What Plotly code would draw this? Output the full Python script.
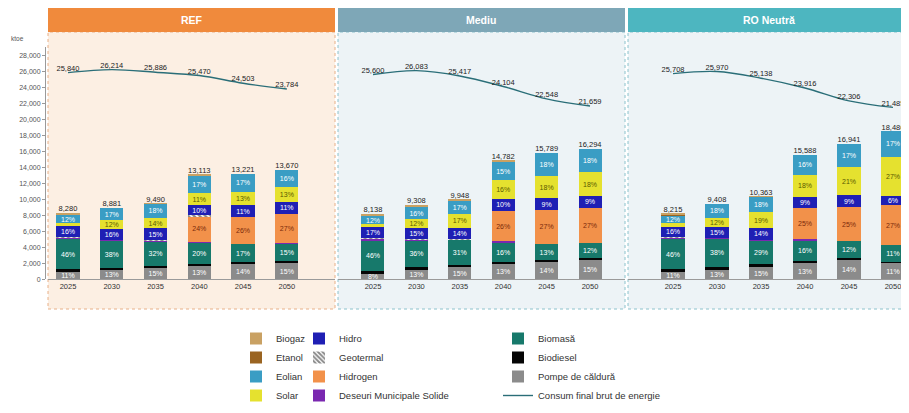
import plotly.graph_objects as go

years = ["2025", "2030", "2035", "2040", "2045", "2050"]
scenarios = ["REF", "Mediu", "RO Neutră"]

# Bar totals (ktoe)
ref_total = [8280, 8881, 9490, 13113, 13221, 13670]
mediu_total = [8138, 9308, 9948, 14782, 15789, 16294]
ro_total = [8215, 9408, 10363, 15588, 16941, 18486]

# Consum final brut de energie (ktoe)
ref_consum = [25840, 26214, 25886, 25470, 24503, 23784]
mediu_consum = [25600, 26083, 25417, 24104, 22548, 21659]
ro_consum = [25708, 25970, 25138, 23916, 22306, 21485]

# Shares (%) per source - REF
ref_pompe = [11, 13, 15, 13, 14, 15]
ref_biodiesel = [4, 3, 3, 2, 2, 2]
ref_biomasa = [46, 38, 32, 20, 17, 15]
ref_deseuri = [1, 1, 1, 1, 0, 1]
ref_hidrogen = [0, 0, 0, 24, 26, 27]
ref_geotermal = [2, 0, 1, 1, 0, 0]
ref_hidro = [16, 16, 15, 10, 11, 11]
ref_solar = [5, 12, 14, 11, 13, 13]
ref_eolian = [12, 17, 18, 17, 17, 16]
ref_etanol = [1, 0, 0, 0, 0, 0]
ref_biogaz = [2, 0, 1, 1, 0, 0]

# Mediu
mediu_pompe = [8, 13, 15, 13, 14, 15]
mediu_biodiesel = [5, 3, 3, 2, 1, 1]
mediu_biomasa = [46, 36, 31, 16, 13, 12]
mediu_deseuri = [3, 1, 1, 1, 0, 0]
mediu_hidrogen = [0, 0, 0, 26, 27, 27]
mediu_geotermal = [1, 1, 1, 0, 0, 0]
mediu_hidro = [17, 15, 14, 10, 9, 9]
mediu_solar = [5, 12, 17, 16, 18, 18]
mediu_eolian = [12, 16, 17, 15, 18, 18]
mediu_etanol = [1, 1, 0, 0, 0, 0]
mediu_biogaz = [2, 2, 1, 1, 0, 0]

# RO Neutra
ro_pompe = [11, 13, 15, 13, 14, 11]
ro_biodiesel = [4, 3, 3, 2, 2, 1]
ro_biomasa = [46, 38, 29, 16, 12, 11]
ro_deseuri = [2, 1, 1, 1, 0, 0]
ro_hidrogen = [0, 0, 0, 25, 25, 27]
ro_geotermal = [1, 0, 0, 0, 0, 0]
ro_hidro = [16, 15, 14, 9, 9, 6]
ro_solar = [5, 12, 19, 18, 21, 27]
ro_eolian = [12, 18, 18, 16, 17, 17]
ro_etanol = [1, 0, 0, 0, 0, 0]
ro_biogaz = [2, 0, 1, 0, 0, 0]

totals = {"REF": ref_total, "Mediu": mediu_total, "RO Neutră": ro_total}
consum = {"REF": ref_consum, "Mediu": mediu_consum, "RO Neutră": ro_consum}
shares = {
    "REF": [ref_pompe, ref_biodiesel, ref_biomasa, ref_deseuri, ref_hidrogen, ref_geotermal,
            ref_hidro, ref_solar, ref_eolian, ref_etanol, ref_biogaz],
    "Mediu": [mediu_pompe, mediu_biodiesel, mediu_biomasa, mediu_deseuri, mediu_hidrogen,
              mediu_geotermal, mediu_hidro, mediu_solar, mediu_eolian, mediu_etanol, mediu_biogaz],
    "RO Neutră": [ro_pompe, ro_biodiesel, ro_biomasa, ro_deseuri, ro_hidrogen, ro_geotermal,
                  ro_hidro, ro_solar, ro_eolian, ro_etanol, ro_biogaz],
}

# (name, color, label color or None, legend)
series = [
    ("Pompe de căldură", "#8b8b8b", "white", "legend3"),
    ("Biodiesel", "#050505", None, "legend3"),
    ("Biomasă", "#17796b", "white", "legend3"),
    ("Deseuri Municipale Solide", "#7a28b0", None, "legend2"),
    ("Hidrogen", "#f2914a", "#7a2a0a", "legend2"),
    ("Geotermal", "white", None, "legend2"),
    ("Hidro", "#1f1fb4", "white", "legend2"),
    ("Solar", "#e5e12f", "#5a5a00", "legend"),
    ("Eolian", "#3a9dc4", "white", "legend"),
    ("Etanol", "#9a6421", None, "legend"),
    ("Biogaz", "#c9a163", None, "legend"),
]

# The page body adds an 8px offset; the figure is sized to fill the rest of the window.
OFF = 8
W, H = 909 - OFF, 413 - OFF
px = lambda v: (v - OFF) / W
py = lambda v: (H - (v - OFF)) / H

axes = {"REF": ("x", "y"), "Mediu": ("x2", "y"), "RO Neutră": ("x3", "y")}
line_color = "#2a6e78"

fig = go.Figure()

# Consumption lines first (for legend order)
for i, sc in enumerate(scenarios):
    xa, ya = axes[sc]
    fig.add_trace(go.Scatter(
        x=years, y=consum[sc], xaxis=xa, yaxis=ya, mode="lines+text",
        name="Consum final brut de energie", legend="legend3", showlegend=(i == 0),
        line=dict(color=line_color, width=1.4, shape="spline"),
        text=[f"{v:,}" for v in consum[sc]], textposition="top center",
        textfont=dict(size=7.5, color="#222", family="Arial"),
    ))

for si, (name, color, lcol, leg) in enumerate(series):
    for i, sc in enumerate(scenarios):
        xa, ya = axes[sc]
        pct = shares[sc][si]
        vals = [p * t / 100 for p, t in zip(pct, totals[sc])]
        marker = dict(color=color, line=dict(width=0))
        if name == "Geotermal":
            marker = dict(color="white", line=dict(width=0),
                          pattern=dict(shape="\\", fgcolor="#111", bgcolor="white", size=4, solidity=0.6))
        txt = [f"{p}%" if (lcol and p >= 6) else "" for p in pct]
        fig.add_trace(go.Bar(
            x=years, y=vals, xaxis=xa, yaxis=ya, name=name, legend=leg,
            showlegend=(i == 0), marker=marker,
            text=txt, textposition="inside", insidetextanchor="middle", textangle=0,
            constraintext="none",
            textfont=dict(size=7, color=lcol or "white", family="Arial"),
        ))

for sc in scenarios:
    xa, ya = axes[sc]
    fig.add_trace(go.Scatter(
        x=years, y=totals[sc], xaxis=xa, yaxis=ya, mode="text", showlegend=False,
        text=[f"{v:,}" for v in totals[sc]], textposition="top center",
        textfont=dict(size=7.5, color="#222", family="Arial"),
    ))

# panels: (name, x0, x1, header color, bg color, border color)
panels = [
    ("REF", 48, 335, "#f08a3c", "#fcefe3", "#e8b088"),
    ("Mediu", 338, 625, "#7ea7b7", "#edf3f6", "#8cc2cc"),
    ("RO Neutră", 628, 909, "#4db6c0", "#edf3f6", "#8cc2cc"),
]
shapes = []
annotations = []
for name, x0, x1, hc, bg, bc in panels:
    shapes.append(dict(type="rect", xref="paper", yref="paper", x0=px(x0), x1=px(x1),
                       y0=py(309), y1=py(32), fillcolor=bg, line=dict(width=0), layer="below"))
    shapes.append(dict(type="rect", xref="paper", yref="paper", x0=px(x0), x1=px(x1),
                       y0=py(309), y1=py(32), fillcolor="rgba(0,0,0,0)",
                       line=dict(width=1, color=bc, dash="dot"), layer="below"))
    shapes.append(dict(type="rect", xref="paper", yref="paper", x0=px(x0), x1=px(x1),
                       y0=py(32), y1=py(8), fillcolor=hc, line=dict(width=0), layer="below"))
    annotations.append(dict(xref="paper", yref="paper", x=px((x0 + x1) / 2), y=py(20),
                            xanchor="center", yanchor="middle",
                            text=f"<b>{name}</b>", showarrow=False,
                            font=dict(size=10.5, color="white", family="Arial")))

annotations.append(dict(xref="paper", yref="paper", x=px(17), y=py(38), text="ktoe",
                        xanchor="center", yanchor="middle",
                        showarrow=False, font=dict(size=6.5, color="#555", family="Arial")))

ydom = [py(279.3), py(47.3)]
xcommon = dict(showline=True, linecolor="#9a9a9a", linewidth=1, ticks="", showgrid=False,
               zeroline=False, type="category", tickfont=dict(size=7.5, color="#333", family="Arial"),
               anchor="y", automargin=False, fixedrange=True)

legend_common = dict(orientation="v", yanchor="top", xanchor="left", bgcolor="rgba(0,0,0,0)",
                     traceorder="reversed", font=dict(size=9.5, color="#333", family="Arial"),
                     tracegroupgap=0, borderwidth=0)

fig.update_layout(
    width=W, height=H,
    margin=dict(l=0, r=0, t=0, b=0),
    paper_bgcolor="white", plot_bgcolor="rgba(0,0,0,0)",
    barmode="stack", bargap=0.47,
    showlegend=True,
    xaxis=dict(domain=[px(48), px(335)], range=[-0.457, 6.1], **xcommon),
    xaxis2=dict(domain=[px(338), px(625)], range=[-0.806, 5.806], **xcommon),
    xaxis3=dict(domain=[px(628), 1.0], range=[-1.023, 5.364], **xcommon),
    yaxis=dict(domain=ydom, range=[0, 29000], anchor="free", position=px(45),
               showline=True, linecolor="#9a9a9a", linewidth=1, ticks="outside", ticklen=3,
               tickcolor="#9a9a9a", tickvals=list(range(0, 28001, 2000)), tickformat=",",
               tickfont=dict(size=7, color="#555", family="Arial"), showgrid=False,
               zeroline=False, automargin=False, fixedrange=True),
    legend=dict(x=px(236), y=py(324), **legend_common),
    legend2=dict(x=px(299), y=py(324), **legend_common),
    legend3=dict(x=px(498), y=py(324), **legend_common),
    shapes=shapes, annotations=annotations,
)

fig.write_html("out.html")
